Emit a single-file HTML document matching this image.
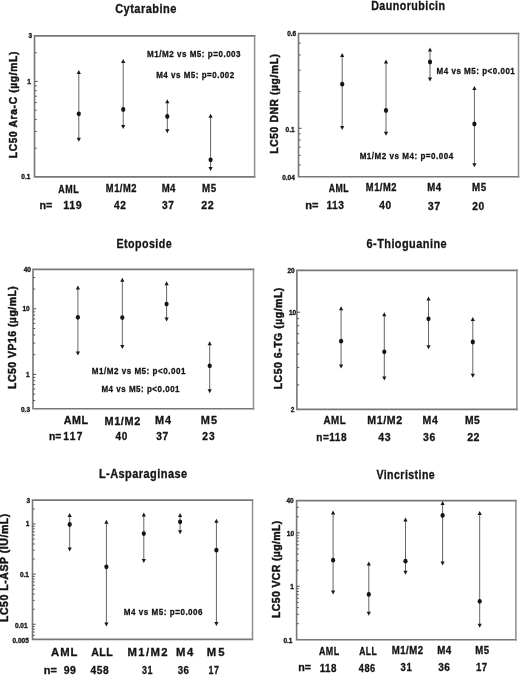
<!DOCTYPE html>
<html><head><meta charset="utf-8"><title>LC50 by FAB subtype</title>
<style>
html,body{margin:0;padding:0;background:#fff;}
body{width:520px;height:675px;overflow:hidden;}
svg{display:block;filter:blur(0.3px);}
text{font-family:"Liberation Sans",Arial,Helvetica,sans-serif;font-weight:bold;fill:#141414;stroke:#141414;stroke-width:0.3px;}
.l{stroke-width:0.3px;}
text.ti{stroke-width:0.3px;}
text.yl{stroke-width:0.45px;}
.box{fill:none;stroke:#777;stroke-width:1.6;stroke-linecap:square;}
.boxr{fill:none;stroke:#8e8e8e;stroke-width:1.5;stroke-linecap:square;}
.tick{fill:none;stroke:#555;stroke-width:1;}
.bar{fill:none;stroke:#666;stroke-width:1;}
.ah{fill:#1a1a1a;}
.dot{fill:#141414;}
</style></head><body>
<svg width="520" height="675" viewBox="0 0 520 675">
<rect width="520" height="675" fill="#fff"/>
<path d="M34.50 35.90H254.60M34.50 176.90H254.60M34.50 35.90V176.90" class="box"/>
<path d="M254.60 35.90V176.90" class="boxr"/>
<path d="M34.50 148.16h2.2 M34.50 131.36h2.2 M34.50 119.43h2.2 M34.50 110.18h2.2 M34.50 102.62h2.2 M34.50 96.23h2.2 M34.50 90.69h2.2 M34.50 85.81h2.2 M34.50 81.44h3.2 M34.50 52.71h2.2" class="tick"/>
<path d="M78.80 73.50V138.30" class="bar"/>
<path d="M78.80 70.00L80.90 74.00H76.70Z M78.80 141.80L80.90 137.80H76.70Z" class="ah"/>
<ellipse cx="78.80" cy="113.80" rx="2.1" ry="2.4" class="dot"/>
<path d="M123.20 62.50V125.40" class="bar"/>
<path d="M123.20 59.00L125.30 63.00H121.10Z M123.20 128.90L125.30 124.90H121.10Z" class="ah"/>
<ellipse cx="123.20" cy="109.50" rx="2.1" ry="2.4" class="dot"/>
<path d="M167.30 102.80V129.80" class="bar"/>
<path d="M167.30 99.30L169.40 103.30H165.20Z M167.30 133.30L169.40 129.30H165.20Z" class="ah"/>
<ellipse cx="167.30" cy="116.50" rx="2.1" ry="2.4" class="dot"/>
<path d="M210.60 117.20V167.60" class="bar"/>
<path d="M210.60 113.70L212.70 117.70H208.50Z M210.60 171.10L212.70 167.10H208.50Z" class="ah"/>
<ellipse cx="210.60" cy="159.80" rx="2.1" ry="2.4" class="dot"/>
<text x="28.42" y="38.44" font-size="6.50" textLength="3.62" lengthAdjust="spacingAndGlyphs">3</text>
<text x="27.37" y="84.04" font-size="6.50" textLength="3.62" lengthAdjust="spacingAndGlyphs">1</text>
<text x="21.34" y="179.34" font-size="6.50" textLength="9.04" lengthAdjust="spacingAndGlyphs">0.1</text>
<text class="ti" transform="translate(115.16,13.10) scale(0.871,1)" font-size="12.70" textLength="70.29" lengthAdjust="spacing">Cytarabine</text>
<text transform="translate(147.06,56.90) scale(0.840,1.000)" font-size="9.60" textLength="111.36" lengthAdjust="spacing">M1/M2 vs M5: p=0.003</text>
<text transform="translate(156.16,78.10) scale(0.834,1.000)" font-size="9.60" textLength="93.64" lengthAdjust="spacing">M4 vs M5: p=0.002</text>
<text class="l" transform="translate(58.28,192.50) scale(0.874,1.000)" font-size="10.20" textLength="23.24" lengthAdjust="spacing">AML</text>
<text class="l" transform="translate(105.87,192.30) scale(0.915,1.000)" font-size="10.20" textLength="33.36" lengthAdjust="spacing">M1/M2</text>
<text class="l" transform="translate(161.65,191.90) scale(0.939,1.000)" font-size="10.20" textLength="14.70" lengthAdjust="spacing">M4</text>
<text class="l" transform="translate(202.04,191.90) scale(0.956,1.000)" font-size="10.20" textLength="14.69" lengthAdjust="spacing">M5</text>
<text class="l" x="39.50" y="208.50" font-size="10.70" textLength="12.85" lengthAdjust="spacingAndGlyphs">n=</text>
<text class="l" x="63.13" y="208.80" font-size="10.70" textLength="18.55" lengthAdjust="spacing">119</text>
<text class="l" transform="translate(114.05,208.80) scale(0.948,1.000)" font-size="10.70" textLength="12.43" lengthAdjust="spacing">42</text>
<text class="l" transform="translate(162.07,208.80) scale(0.957,1.000)" font-size="10.70" textLength="12.42" lengthAdjust="spacing">37</text>
<text class="l" x="201.33" y="208.80" font-size="10.70" textLength="12.43" lengthAdjust="spacing">22</text>
<text class="yl" transform="translate(17.10,158.19) rotate(-90)" font-size="10.20" textLength="106.50" lengthAdjust="spacing">LC50 Ara-C (µg/mL)</text>
<path d="M298.50 33.50H518.50M298.50 176.80H518.50M298.50 33.50V176.80" class="box"/>
<path d="M518.50 33.50V176.80" class="boxr"/>
<path d="M298.50 164.99h2.2 M298.50 155.34h2.2 M298.50 147.19h2.2 M298.50 140.12h2.2 M298.50 133.89h2.2 M298.50 128.31h3.2 M298.50 91.63h2.2 M298.50 70.18h2.2 M298.50 54.96h2.2 M298.50 43.15h2.2" class="tick"/>
<path d="M342.20 56.60V126.50" class="bar"/>
<path d="M342.20 53.10L344.30 57.10H340.10Z M342.20 130.00L344.30 126.00H340.10Z" class="ah"/>
<ellipse cx="342.20" cy="84.20" rx="2.1" ry="2.4" class="dot"/>
<path d="M386.00 63.00V132.20" class="bar"/>
<path d="M386.00 59.50L388.10 63.50H383.90Z M386.00 135.70L388.10 131.70H383.90Z" class="ah"/>
<ellipse cx="386.00" cy="110.50" rx="2.1" ry="2.4" class="dot"/>
<path d="M430.00 51.10V78.10" class="bar"/>
<path d="M430.00 47.60L432.10 51.60H427.90Z M430.00 81.60L432.10 77.60H427.90Z" class="ah"/>
<ellipse cx="430.00" cy="62.00" rx="2.1" ry="2.4" class="dot"/>
<path d="M474.40 89.50V163.70" class="bar"/>
<path d="M474.40 86.00L476.50 90.00H472.30Z M474.40 167.20L476.50 163.20H472.30Z" class="ah"/>
<ellipse cx="474.40" cy="124.00" rx="2.1" ry="2.4" class="dot"/>
<text x="287.19" y="36.24" font-size="6.50" textLength="9.04" lengthAdjust="spacingAndGlyphs">0.6</text>
<text x="285.54" y="131.54" font-size="6.50" textLength="9.04" lengthAdjust="spacingAndGlyphs">0.1</text>
<text x="282.19" y="179.54" font-size="6.50" textLength="12.65" lengthAdjust="spacingAndGlyphs">0.04</text>
<text class="ti" transform="translate(371.18,10.20) scale(0.849,1)" font-size="12.60" textLength="87.03" lengthAdjust="spacing">Daunorubicin</text>
<text transform="translate(436.56,74.20) scale(0.836,1.000)" font-size="9.60" textLength="93.61" lengthAdjust="spacing">M4 vs M5: p&lt;0.001</text>
<text transform="translate(359.66,159.10) scale(0.841,1.000)" font-size="9.60" textLength="111.35" lengthAdjust="spacing">M1/M2 vs M4: p=0.004</text>
<text class="l" transform="translate(328.78,191.50) scale(0.867,1.000)" font-size="10.00" textLength="22.81" lengthAdjust="spacing">AML</text>
<text class="l" transform="translate(365.87,191.40) scale(0.933,1.000)" font-size="10.00" textLength="32.71" lengthAdjust="spacing">M1/M2</text>
<text class="l" transform="translate(427.25,191.20) scale(0.958,1.000)" font-size="10.00" textLength="14.41" lengthAdjust="spacing">M4</text>
<text class="l" transform="translate(472.04,191.20) scale(0.975,1.000)" font-size="10.00" textLength="14.40" lengthAdjust="spacing">M5</text>
<text class="l" x="305.28" y="208.80" font-size="10.70" textLength="13.29" lengthAdjust="spacingAndGlyphs">n=</text>
<text class="l" transform="translate(326.46,208.80) scale(0.956,1.000)" font-size="10.70" textLength="18.31" lengthAdjust="spacing">113</text>
<text class="l" transform="translate(379.25,208.80) scale(0.948,1.000)" font-size="10.70" textLength="12.43" lengthAdjust="spacing">40</text>
<text class="l" x="427.66" y="209.80" font-size="10.70" textLength="12.42" lengthAdjust="spacing">37</text>
<text class="l" transform="translate(472.34,209.80) scale(0.957,1.000)" font-size="10.70" textLength="12.42" lengthAdjust="spacing">20</text>
<text class="yl" transform="translate(278.00,153.69) rotate(-90)" font-size="10.20" textLength="99.71" lengthAdjust="spacing">LC50 DNR (µg/mL)</text>
<path d="M33.00 269.35H253.50M33.00 408.70H253.50M33.00 269.35V408.70" class="box"/>
<path d="M253.50 269.35V408.70" class="boxr"/>
<path d="M33.00 400.51h2.2 M33.00 394.15h2.2 M33.00 388.96h2.2 M33.00 384.57h2.2 M33.00 380.77h2.2 M33.00 377.41h2.2 M33.00 374.41h3.2 M33.00 354.67h2.2 M33.00 343.12h2.2 M33.00 334.93h2.2 M33.00 328.57h2.2 M33.00 323.38h2.2 M33.00 318.99h2.2 M33.00 315.19h2.2 M33.00 311.83h2.2 M33.00 308.83h3.2 M33.00 289.09h2.2 M33.00 277.54h2.2" class="tick"/>
<path d="M77.90 289.00V352.10" class="bar"/>
<path d="M77.90 285.50L80.00 289.50H75.80Z M77.90 355.60L80.00 351.60H75.80Z" class="ah"/>
<ellipse cx="77.90" cy="317.30" rx="2.1" ry="2.4" class="dot"/>
<path d="M122.30 281.30V345.50" class="bar"/>
<path d="M122.30 277.80L124.40 281.80H120.20Z M122.30 349.00L124.40 345.00H120.20Z" class="ah"/>
<ellipse cx="122.30" cy="317.60" rx="2.1" ry="2.4" class="dot"/>
<path d="M166.60 284.70V318.10" class="bar"/>
<path d="M166.60 281.20L168.70 285.20H164.50Z M166.60 321.60L168.70 317.60H164.50Z" class="ah"/>
<ellipse cx="166.60" cy="304.10" rx="2.1" ry="2.4" class="dot"/>
<path d="M209.70 344.80V389.80" class="bar"/>
<path d="M209.70 341.30L211.80 345.30H207.60Z M209.70 393.30L211.80 389.30H207.60Z" class="ah"/>
<ellipse cx="209.70" cy="365.80" rx="2.1" ry="2.4" class="dot"/>
<text x="23.64" y="271.84" font-size="6.50" textLength="7.23" lengthAdjust="spacingAndGlyphs">40</text>
<text x="22.45" y="311.14" font-size="6.50" textLength="7.23" lengthAdjust="spacingAndGlyphs">10</text>
<text x="25.97" y="377.24" font-size="6.50" textLength="3.62" lengthAdjust="spacingAndGlyphs">1</text>
<text x="20.99" y="411.64" font-size="6.50" textLength="9.04" lengthAdjust="spacingAndGlyphs">0.3</text>
<text class="ti" transform="translate(116.38,247.50) scale(0.876,1)" font-size="12.20" textLength="63.08" lengthAdjust="spacing">Etoposide</text>
<text transform="translate(91.75,373.70) scale(0.841,1.000)" font-size="9.60" textLength="111.34" lengthAdjust="spacing">M1/M2 vs M5: p&lt;0.001</text>
<text transform="translate(101.46,392.30) scale(0.834,1.000)" font-size="9.60" textLength="93.64" lengthAdjust="spacing">M4 vs M5: p&lt;0.001</text>
<text class="l" transform="translate(63.73,424.20) scale(0.987,1.000)" font-size="10.90" textLength="24.62" lengthAdjust="spacing">AML</text>
<text class="l" x="104.46" y="424.50" font-size="10.90" textLength="35.78" lengthAdjust="spacing">M1/M2</text>
<text class="l" x="154.96" y="424.40" font-size="10.90" textLength="16.21" lengthAdjust="spacing">M4</text>
<text class="l" x="200.76" y="424.40" font-size="10.90" textLength="16.35" lengthAdjust="spacing">M5</text>
<text class="l" x="48.93" y="440.20" font-size="10.20" textLength="12.31" lengthAdjust="spacingAndGlyphs">n=</text>
<text class="l" x="63.36" y="440.20" font-size="10.20" textLength="18.98" lengthAdjust="spacing">117</text>
<text class="l" transform="translate(115.55,440.00) scale(0.985,1.000)" font-size="10.20" textLength="11.85" lengthAdjust="spacing">40</text>
<text class="l" x="156.27" y="440.00" font-size="10.20" textLength="11.99" lengthAdjust="spacing">37</text>
<text class="l" x="202.34" y="440.00" font-size="10.20" textLength="12.34" lengthAdjust="spacing">23</text>
<text class="yl" transform="translate(16.10,388.91) rotate(-90)" font-size="10.50" textLength="102.74" lengthAdjust="spacing">LC50 VP16 (µg/mL)</text>
<path d="M296.90 270.35H516.90M296.90 409.40H516.90M296.90 270.35V409.40" class="box"/>
<path d="M516.90 270.35V409.40" class="boxr"/>
<path d="M296.90 384.91h2.2 M296.90 367.54h2.2 M296.90 354.07h2.2 M296.90 343.06h2.2 M296.90 333.75h2.2 M296.90 325.68h2.2 M296.90 318.57h2.2 M296.90 312.21h3.2" class="tick"/>
<path d="M341.10 309.70V365.00" class="bar"/>
<path d="M341.10 306.20L343.20 310.20H339.00Z M341.10 368.50L343.20 364.50H339.00Z" class="ah"/>
<ellipse cx="341.10" cy="341.20" rx="2.1" ry="2.4" class="dot"/>
<path d="M384.30 315.80V377.00" class="bar"/>
<path d="M384.30 312.30L386.40 316.30H382.20Z M384.30 380.50L386.40 376.50H382.20Z" class="ah"/>
<ellipse cx="384.30" cy="351.80" rx="2.1" ry="2.4" class="dot"/>
<path d="M428.50 300.00V345.70" class="bar"/>
<path d="M428.50 296.50L430.60 300.50H426.40Z M428.50 349.20L430.60 345.20H426.40Z" class="ah"/>
<ellipse cx="428.50" cy="318.80" rx="2.1" ry="2.4" class="dot"/>
<path d="M472.80 320.40V374.20" class="bar"/>
<path d="M472.80 316.90L474.90 320.90H470.70Z M472.80 377.70L474.90 373.70H470.70Z" class="ah"/>
<ellipse cx="472.80" cy="342.00" rx="2.1" ry="2.4" class="dot"/>
<text x="287.44" y="272.54" font-size="6.50" textLength="7.23" lengthAdjust="spacingAndGlyphs">20</text>
<text x="288.95" y="314.74" font-size="6.50" textLength="7.23" lengthAdjust="spacingAndGlyphs">10</text>
<text x="290.65" y="411.84" font-size="6.50" textLength="3.62" lengthAdjust="spacingAndGlyphs">2</text>
<text class="ti" transform="translate(366.49,248.10) scale(0.882,1)" font-size="12.40" textLength="90.85" lengthAdjust="spacing">6-Thioguanine</text>
<text class="l" transform="translate(323.45,423.80) scale(0.926,1.000)" font-size="10.60" textLength="24.04" lengthAdjust="spacing">AML</text>
<text class="l" x="367.18" y="423.80" font-size="10.60" textLength="34.95" lengthAdjust="spacing">M1/M2</text>
<text class="l" transform="translate(422.59,424.20) scale(0.997,1.000)" font-size="10.60" textLength="15.23" lengthAdjust="spacing">M4</text>
<text class="l" transform="translate(464.91,424.20) scale(0.971,1.000)" font-size="10.60" textLength="15.24" lengthAdjust="spacing">M5</text>
<text class="l" transform="translate(316.24,441.20) scale(0.935,1.000)" font-size="10.80" textLength="32.47" lengthAdjust="spacing">n=118</text>
<text class="l" transform="translate(378.34,441.20) scale(0.978,1.000)" font-size="10.80" textLength="12.52" lengthAdjust="spacing">43</text>
<text class="l" transform="translate(423.06,441.20) scale(0.968,1.000)" font-size="10.80" textLength="12.53" lengthAdjust="spacing">36</text>
<text class="l" transform="translate(467.13,441.20) scale(0.984,1.000)" font-size="10.80" textLength="12.52" lengthAdjust="spacing">22</text>
<text class="yl" transform="translate(282.00,389.31) rotate(-90)" font-size="10.50" textLength="101.63" lengthAdjust="spacing">LC50 6-TG (µg/mL)</text>
<path d="M32.50 500.10H252.50M32.50 639.35H252.50M32.50 500.10V639.35" class="box"/>
<path d="M252.50 500.10V639.35" class="boxr"/>
<path d="M32.50 635.38h2.2 M32.50 632.03h2.2 M32.50 629.12h2.2 M32.50 626.55h2.2 M32.50 624.26h3.2 M32.50 609.17h2.2 M32.50 600.35h2.2 M32.50 594.08h2.2 M32.50 589.23h2.2 M32.50 585.26h2.2 M32.50 581.90h2.2 M32.50 579.00h2.2 M32.50 576.43h2.2 M32.50 574.14h3.2 M32.50 559.05h2.2 M32.50 550.22h2.2 M32.50 543.96h2.2 M32.50 539.10h2.2 M32.50 535.13h2.2 M32.50 531.78h2.2 M32.50 528.87h2.2 M32.50 526.31h2.2 M32.50 524.01h3.2 M32.50 508.93h2.2" class="tick"/>
<path d="M69.70 516.40V548.00" class="bar"/>
<path d="M69.70 512.90L71.80 516.90H67.60Z M69.70 551.50L71.80 547.50H67.60Z" class="ah"/>
<ellipse cx="69.70" cy="524.50" rx="2.1" ry="2.4" class="dot"/>
<path d="M106.40 523.20V623.10" class="bar"/>
<path d="M106.40 519.70L108.50 523.70H104.30Z M106.40 626.60L108.50 622.60H104.30Z" class="ah"/>
<ellipse cx="106.40" cy="566.80" rx="2.1" ry="2.4" class="dot"/>
<path d="M143.80 515.90V559.40" class="bar"/>
<path d="M143.80 512.40L145.90 516.40H141.70Z M143.80 562.90L145.90 558.90H141.70Z" class="ah"/>
<ellipse cx="143.80" cy="533.60" rx="2.1" ry="2.4" class="dot"/>
<path d="M180.10 516.40V530.70" class="bar"/>
<path d="M180.10 512.90L182.20 516.90H178.00Z M180.10 534.20L182.20 530.20H178.00Z" class="ah"/>
<ellipse cx="180.10" cy="521.80" rx="2.1" ry="2.4" class="dot"/>
<path d="M216.40 522.20V622.40" class="bar"/>
<path d="M216.40 518.70L218.50 522.70H214.30Z M216.40 625.90L218.50 621.90H214.30Z" class="ah"/>
<ellipse cx="216.40" cy="550.20" rx="2.1" ry="2.4" class="dot"/>
<text x="26.62" y="502.74" font-size="6.50" textLength="3.62" lengthAdjust="spacingAndGlyphs">3</text>
<text x="25.87" y="526.14" font-size="6.50" textLength="3.62" lengthAdjust="spacingAndGlyphs">1</text>
<text x="19.94" y="576.94" font-size="6.50" textLength="9.04" lengthAdjust="spacingAndGlyphs">0.1</text>
<text x="14.94" y="627.74" font-size="6.50" textLength="12.65" lengthAdjust="spacingAndGlyphs">0.01</text>
<text x="12.51" y="642.64" font-size="6.50" textLength="16.27" lengthAdjust="spacingAndGlyphs">0.005</text>
<text class="ti" transform="translate(98.96,478.00) scale(0.914,1)" font-size="12.00" textLength="96.44" lengthAdjust="spacing">L-Asparaginase</text>
<text transform="translate(123.85,615.00) scale(0.842,1.000)" font-size="9.60" textLength="93.55" lengthAdjust="spacing">M4 vs M5: p=0.006</text>
<text class="l" x="51.12" y="655.70" font-size="11.30" textLength="26.33" lengthAdjust="spacing">AML</text>
<text class="l" transform="translate(91.13,655.70) scale(0.942,1.000)" font-size="11.30" textLength="23.03" lengthAdjust="spacing">ALL</text>
<text class="l" x="127.54" y="655.70" font-size="11.30" textLength="40.03" lengthAdjust="spacing">M1/M2</text>
<text class="l" x="176.04" y="655.70" font-size="11.30" textLength="17.24" lengthAdjust="spacing">M4</text>
<text class="l" x="206.74" y="655.70" font-size="11.30" textLength="17.79" lengthAdjust="spacing">M5</text>
<text class="l" x="43.79" y="673.80" font-size="10.50" textLength="13.07" lengthAdjust="spacingAndGlyphs">n=</text>
<text class="l" x="63.63" y="673.80" font-size="10.50" textLength="12.26" lengthAdjust="spacing">99</text>
<text class="l" transform="translate(90.55,673.80) scale(0.974,1.000)" font-size="10.50" textLength="18.55" lengthAdjust="spacing">458</text>
<text class="l" transform="translate(141.90,673.80) scale(0.854,1.000)" font-size="10.50" textLength="12.27" lengthAdjust="spacing">31</text>
<text class="l" transform="translate(177.68,673.80) scale(0.923,1.000)" font-size="10.50" textLength="12.22" lengthAdjust="spacing">36</text>
<text class="l" transform="translate(208.54,673.80) scale(0.853,1.000)" font-size="10.50" textLength="12.27" lengthAdjust="spacing">17</text>
<text class="yl" transform="translate(8.30,622.01) rotate(-90)" font-size="10.50" textLength="108.23" lengthAdjust="spacing">LC50 L-ASP (IU/mL)</text>
<path d="M296.60 500.65H515.90M296.60 639.80H515.90M296.60 500.65V639.80" class="box"/>
<path d="M515.90 500.65V639.80" class="boxr"/>
<path d="M296.60 623.70h2.2 M296.60 614.29h2.2 M296.60 607.60h2.2 M296.60 602.42h2.2 M296.60 598.19h2.2 M296.60 594.61h2.2 M296.60 591.51h2.2 M296.60 588.77h2.2 M296.60 586.32h3.2 M296.60 570.22h2.2 M296.60 560.81h2.2 M296.60 554.13h2.2 M296.60 548.94h2.2 M296.60 544.71h2.2 M296.60 541.13h2.2 M296.60 538.03h2.2 M296.60 535.29h2.2 M296.60 532.85h3.2 M296.60 516.75h2.2 M296.60 507.33h2.2" class="tick"/>
<path d="M333.10 513.90V590.90" class="bar"/>
<path d="M333.10 510.40L335.20 514.40H331.00Z M333.10 594.40L335.20 590.40H331.00Z" class="ah"/>
<ellipse cx="333.10" cy="560.20" rx="2.1" ry="2.4" class="dot"/>
<path d="M368.80 564.90V612.30" class="bar"/>
<path d="M368.80 561.40L370.90 565.40H366.70Z M368.80 615.80L370.90 611.80H366.70Z" class="ah"/>
<ellipse cx="368.80" cy="594.40" rx="2.1" ry="2.4" class="dot"/>
<path d="M405.50 521.10V571.20" class="bar"/>
<path d="M405.50 517.60L407.60 521.60H403.40Z M405.50 574.70L407.60 570.70H403.40Z" class="ah"/>
<ellipse cx="405.50" cy="561.20" rx="2.1" ry="2.4" class="dot"/>
<path d="M442.60 504.50V562.00" class="bar"/>
<path d="M442.60 501.00L444.70 505.00H440.50Z M442.60 565.50L444.70 561.50H440.50Z" class="ah"/>
<ellipse cx="442.60" cy="515.40" rx="2.1" ry="2.4" class="dot"/>
<path d="M479.70 514.60V624.30" class="bar"/>
<path d="M479.70 511.10L481.80 515.10H477.60Z M479.70 627.80L481.80 623.80H477.60Z" class="ah"/>
<ellipse cx="479.70" cy="601.30" rx="2.1" ry="2.4" class="dot"/>
<text x="286.44" y="503.44" font-size="6.50" textLength="7.23" lengthAdjust="spacingAndGlyphs">40</text>
<text x="286.85" y="535.84" font-size="6.50" textLength="7.23" lengthAdjust="spacingAndGlyphs">10</text>
<text x="290.37" y="589.24" font-size="6.50" textLength="3.62" lengthAdjust="spacingAndGlyphs">1</text>
<text x="283.44" y="643.04" font-size="6.50" textLength="9.04" lengthAdjust="spacingAndGlyphs">0.1</text>
<text class="ti" transform="translate(376.42,478.80) scale(0.819,1)" font-size="12.90" textLength="71.22" lengthAdjust="spacing">Vincristine</text>
<text class="l" transform="translate(318.98,654.80) scale(0.886,1.000)" font-size="10.00" textLength="22.79" lengthAdjust="spacing">AML</text>
<text class="l" transform="translate(359.19,654.80) scale(0.848,1.000)" font-size="10.00" textLength="20.62" lengthAdjust="spacing">ALL</text>
<text class="l" transform="translate(391.65,654.40) scale(0.960,1.000)" font-size="10.00" textLength="32.65" lengthAdjust="spacing">M1/M2</text>
<text class="l" transform="translate(437.14,654.40) scale(0.973,1.000)" font-size="10.00" textLength="14.41" lengthAdjust="spacing">M4</text>
<text class="l" transform="translate(475.25,654.40) scale(0.959,1.000)" font-size="10.00" textLength="14.41" lengthAdjust="spacing">M5</text>
<text class="l" x="298.25" y="671.30" font-size="10.30" textLength="12.80" lengthAdjust="spacingAndGlyphs">n=</text>
<text class="l" transform="translate(319.69,671.70) scale(0.952,1.000)" font-size="10.30" textLength="17.67" lengthAdjust="spacing">118</text>
<text class="l" transform="translate(358.86,671.70) scale(0.894,1.000)" font-size="10.30" textLength="18.30" lengthAdjust="spacing">486</text>
<text class="l" transform="translate(400.59,671.30) scale(0.925,1.000)" font-size="10.30" textLength="12.00" lengthAdjust="spacing">31</text>
<text class="l" transform="translate(438.17,671.30) scale(0.978,1.000)" font-size="10.30" textLength="11.97" lengthAdjust="spacing">36</text>
<text class="l" transform="translate(475.90,671.30) scale(0.937,1.000)" font-size="10.30" textLength="11.99" lengthAdjust="spacing">17</text>
<text class="yl" transform="translate(279.50,617.91) rotate(-90)" font-size="10.50" textLength="97.24" lengthAdjust="spacing">LC50 VCR (µg/mL)</text>
</svg>
</body></html>
